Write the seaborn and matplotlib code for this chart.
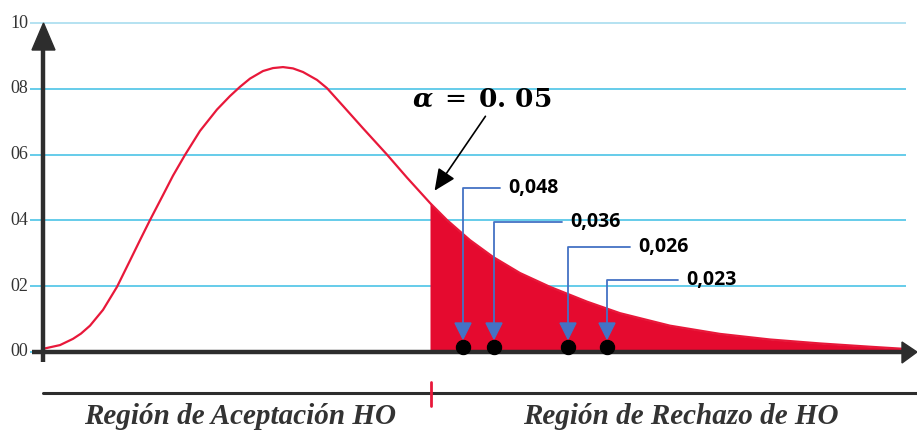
import matplotlib
matplotlib.use("Agg")
import matplotlib.pyplot as plt
import seaborn as sns
import numpy as np
import pandas as pd
from matplotlib.patches import Polygon

# ---- data ----
curve_x = [45, 60, 73, 81, 90, 103, 117, 130, 140, 150, 163, 173, 185, 200,
           217, 230, 240, 250, 263, 273, 283, 293, 303, 317, 327, 343, 363,
           387, 407, 430, 447, 470, 493, 520, 550, 587, 620, 670, 720, 770,
           820, 870, 907]
curve_y = [0.011, 0.021, 0.040, 0.056, 0.080, 0.128, 0.198, 0.278, 0.340,
           0.401, 0.477, 0.536, 0.599, 0.672, 0.737, 0.778, 0.806, 0.831,
           0.854, 0.863, 0.866, 0.862, 0.851, 0.827, 0.802, 0.748, 0.680,
           0.600, 0.530, 0.453, 0.401, 0.340, 0.289, 0.240, 0.198, 0.153,
           0.118, 0.080, 0.055, 0.038, 0.026, 0.016, 0.009]
critical_x = 430
ytick_values = [0.0, 0.2, 0.4, 0.6, 0.8, 1.0]
ytick_labels = ["00", "02", "04", "06", "08", "10"]
pvalue_labels = ["0,048", "0,036", "0,026", "0,023"]
pvalue_x = [463, 494, 568, 607]
label_y = [0.50, 0.395, 0.318, 0.218]
label_x_end = [500, 562, 630, 678]
alpha_label = r"$\boldsymbol{\alpha}\;=\;\mathbf{0.\,05}$"
region_labels = ["Región de Aceptación HO", "Región de Rechazo de HO"]

# ---- figure ----
sns.set_theme(style="white")
plt.rcParams["font.family"] = ["DejaVu Sans"]
plt.rcParams["mathtext.fontset"] = "dejavuserif"
fig = plt.figure(figsize=(9.17, 4.32), dpi=100)
ax = fig.add_axes([0, 0, 1, 1])
ax.set_xlim(0, 917)
ax.set_ylim(-80 / 329, 352 / 329)
ax.axis("off")

grid_c = "#4CC4E6"
axis_c = "#2d2d2d"
red_line = "#E8183A"
red_fill = "#E50A2F"
blue = "#4472C4"

# grid lines
for v in ytick_values:
    col = "#A8DDEF" if v == 1.0 else grid_c
    ax.hlines(v, 30, 906, color=col, lw=1.2, zorder=1)
# tick labels
for v, lab in zip(ytick_values, ytick_labels):
    ax.text(28, v, lab, ha="right", va="center", fontsize=13,
            family="Liberation Serif", color="#333333")

df = pd.DataFrame({"x": curve_x, "y": curve_y})
tail = df[df["x"] >= critical_x]
ax.fill_between(tail["x"], 0, tail["y"], color=red_fill, lw=0, zorder=2)
sns.lineplot(data=df, x="x", y="y", ax=ax, color=red_line, lw=1.6,
             zorder=3, legend=False, solid_joinstyle="round")

# axes arrows
ax.plot([43, 43], [-10 / 329, 0.92], color=axis_c, lw=3.2, zorder=5,
        solid_capstyle="butt")
ax.add_patch(Polygon([[32, 302 / 329], [55, 302 / 329], [43.5, 329 / 329]],
                     closed=True, color=axis_c, zorder=5))
ax.plot([32, 905], [0, 0], color=axis_c, lw=3.2, zorder=5,
        solid_capstyle="butt")
ax.add_patch(Polygon([[902, 10 / 329], [902, -11 / 329], [917, 0]],
                     closed=True, color=axis_c, zorder=5))

# p-value dots
sns.scatterplot(x=pvalue_x, y=[5 / 329] * len(pvalue_x), ax=ax, color="black",
                s=105, marker="o", edgecolor="black", zorder=6, legend=False)

# blue callouts
for lab, px, ly, lx in zip(pvalue_labels, pvalue_x, label_y, label_x_end):
    ax.plot([lx, px, px], [ly, ly, 28 / 329], color=blue, lw=1.3, zorder=7)
    ax.add_patch(Polygon([[px - 8, 29 / 329], [px + 8, 29 / 329],
                          [px, 13 / 329]], closed=True, color=blue, zorder=7))
    ax.text(lx + 8, ly, lab, ha="left", va="center", fontsize=14,
            family="Open Sans", weight="bold", color="black", zorder=8)

# alpha annotation
ax.text(482, 252 / 329, alpha_label, ha="center", va="center", fontsize=19,
        color="black", zorder=8)
ax.annotate("", xy=(433, 159 / 329), xytext=(487, 238 / 329),
            arrowprops=dict(arrowstyle="-|>,head_length=1.1,head_width=0.5",
                            color="black", lw=1.2), zorder=8)

# region bar
ax.plot([43, 917], [-41 / 329, -41 / 329], color=axis_c, lw=2.2, zorder=5)
ax.plot([critical_x + 1, critical_x + 1], [-30 / 329, -54 / 329],
        color="#E8183A", lw=2, zorder=6)
ax.text(240, -65 / 329, region_labels[0], ha="center", va="center",
        fontsize=21, family="Liberation Serif", style="italic", weight="bold",
        color="#333333")
ax.text(681, -65 / 329, region_labels[1], ha="center", va="center",
        fontsize=21, family="Liberation Serif", style="italic", weight="bold",
        color="#333333")

fig.savefig("out.png", dpi=100)
